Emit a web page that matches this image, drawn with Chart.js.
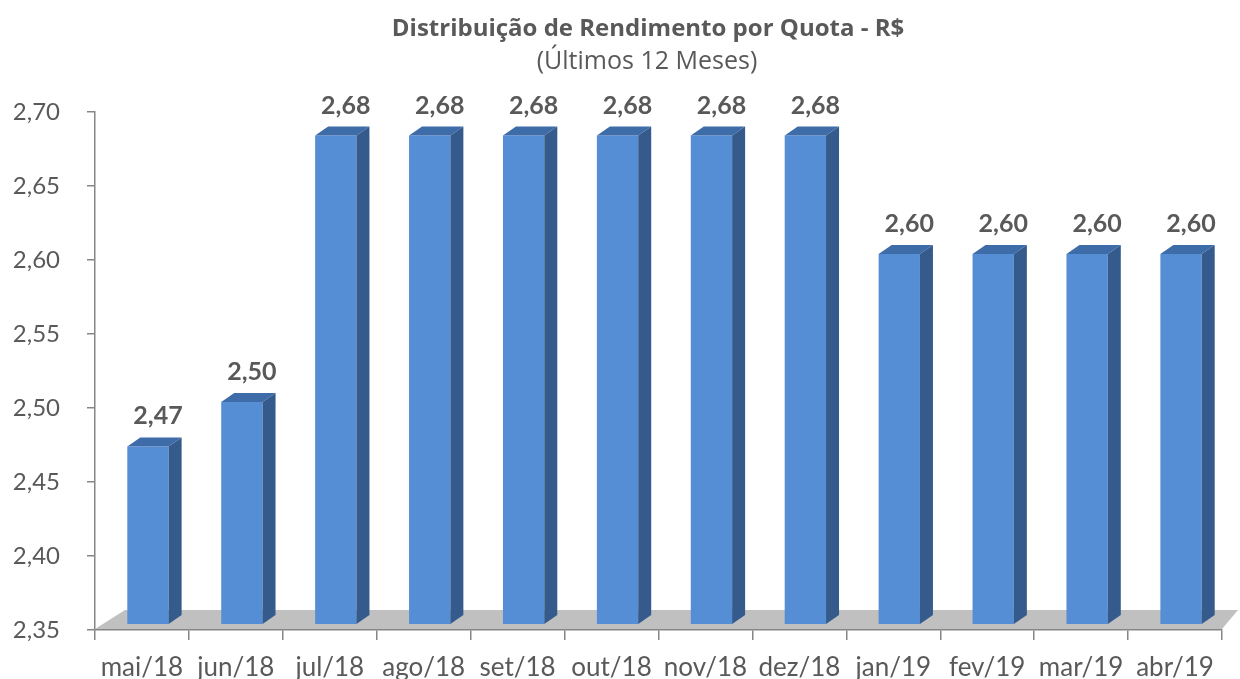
<!DOCTYPE html>
<html>
<head>
<meta charset="utf-8">
<script src="https://cdn.jsdelivr.net/npm/chart.js@4/dist/chart.umd.min.js"></script>
<style>
  html, body { margin: 0; padding: 0; background: #fff; }
  #wrap { width: 1240px; height: 679px; position: relative; }
</style>
</head>
<body>
<div id="wrap"><canvas id="chart"></canvas></div>
<script>
// Data
const MONTHS = ["mai/18", "jun/18", "jul/18", "ago/18", "set/18", "out/18", "nov/18", "dez/18", "jan/19", "fev/19", "mar/19", "abr/19"];
const DISTRIBUTION = [2.47, 2.50, 2.68, 2.68, 2.68, 2.68, 2.68, 2.68, 2.60, 2.60, 2.60, 2.60];
const Y_MIN = 2.35;
const Y_MAX = 2.70;
const Y_STEP = 0.05;
const TITLE = "Distribuição de Rendimento por Quota - R$";
const SUBTITLE = "(Últimos 12 Meses)";

// Styles
const FONT = "Lato, 'Open Sans', sans-serif";
const TITLE_FONT = "'Open Sans', Lato, sans-serif";
const TEXT_COLOR = '#595959';
const AXIS_COLOR = '#868686';
const FRONT_COLOR = '#558ED5';
const SIDE_COLOR = '#345B8C';
const TOP_COLOR = '#3E6CA9';
const FLOOR_COLOR = '#C0C0C0';
const DEPTH_X = 13;
const DEPTH_Y = 9;
const SHIFT_X = 6;
const SHIFT_Y = 6;

const fmt = v => Number(v).toFixed(2).replace('.', ',');

// Draws the floor, 3D faces of each bar and the value labels
const bars3d = {
    id: 'bars3d',
    beforeDatasetsDraw(chart) {
        const { ctx, chartArea: a } = chart;
        ctx.save();
        ctx.fillStyle = FLOOR_COLOR;
        ctx.beginPath();
        ctx.moveTo(a.left, a.bottom - 1);
        ctx.lineTo(a.right, a.bottom - 1);
        ctx.lineTo(a.right + 16, a.bottom - 20);
        ctx.lineTo(a.left + 30, a.bottom - 20);
        ctx.closePath();
        ctx.fill();
        ctx.restore();
        ctx.save();
        ctx.translate(SHIFT_X, -SHIFT_Y);
    },
    afterDatasetsDraw(chart) {
        const { ctx, chartArea: a } = chart;
        const meta = chart.getDatasetMeta(0);
        meta.data.forEach(bar => {
            const l = bar.x - bar.width / 2;
            const r = bar.x + bar.width / 2;
            const t = bar.y;
            const b = Math.min(bar.base, a.bottom);
            ctx.fillStyle = TOP_COLOR;
            ctx.beginPath();
            ctx.moveTo(l, t);
            ctx.lineTo(l + DEPTH_X, t - DEPTH_Y);
            ctx.lineTo(r + DEPTH_X, t - DEPTH_Y);
            ctx.lineTo(r, t);
            ctx.closePath();
            ctx.fill();
            ctx.fillStyle = SIDE_COLOR;
            ctx.beginPath();
            ctx.moveTo(r, t);
            ctx.lineTo(r + DEPTH_X, t - DEPTH_Y);
            ctx.lineTo(r + DEPTH_X, b - DEPTH_Y);
            ctx.lineTo(r, b);
            ctx.closePath();
            ctx.fill();
        });
        ctx.restore();
        // value labels
        ctx.save();
        ctx.font = `bold 25px ${FONT}`;
        ctx.fillStyle = TEXT_COLOR;
        ctx.textAlign = 'center';
        ctx.textBaseline = 'middle';
        meta.data.forEach((bar, i) => {
            ctx.fillText(fmt(DISTRIBUTION[i]), bar.x + SHIFT_X + 10, bar.y - SHIFT_Y - 30);
        });
        ctx.restore();
    },
    afterDraw(chart) {
        const { ctx } = chart;
        ctx.save();
        ctx.fillStyle = TEXT_COLOR;
        ctx.textAlign = 'center';
        ctx.textBaseline = 'middle';
        ctx.font = `bold 24px ${TITLE_FONT}`;
        ctx.fillText(TITLE, 648, 29);
        ctx.font = `25px ${TITLE_FONT}`;
        ctx.fillText(SUBTITLE, 647, 62);
        ctx.restore();
    }
};

const ctx = document.getElementById('chart');
new Chart(ctx, {
    type: 'bar',
    data: {
        labels: MONTHS,
        datasets: [{
            data: DISTRIBUTION,
            backgroundColor: FRONT_COLOR,
            borderWidth: 0,
            barPercentage: 0.44,
            categoryPercentage: 1.0
        }]
    },
    options: {
        responsive: true,
        maintainAspectRatio: false,
        animation: false,
        layout: { padding: { top: 112, right: 18, left: 0, bottom: 0 } },
        plugins: {
            legend: { display: false },
            title: { display: false },
            tooltip: { enabled: false }
        },
        scales: {
            x: {
                afterFit: s => { s.height = 49; },
                grid: { display: true, drawOnChartArea: false, offset: true, tickLength: 10, color: AXIS_COLOR, lineWidth: 1.5 },
                border: { color: AXIS_COLOR, width: 1.5 },
                ticks: { color: TEXT_COLOR, font: { family: FONT, size: 26 }, padding: 12, maxRotation: 0, autoSkip: false }
            },
            y: {
                min: Y_MIN,
                max: Y_MAX,
                afterFit: s => { s.width = 95; },
                grid: { display: true, drawOnChartArea: false, tickLength: 8, color: AXIS_COLOR, lineWidth: 1.5 },
                border: { color: AXIS_COLOR, width: 1.5 },
                ticks: { stepSize: Y_STEP, color: TEXT_COLOR, font: { family: FONT, size: 24 }, padding: 27, callback: v => fmt(v) }
            }
        }
    },
    plugins: [bars3d]
});
</script>
</body>
</html>
